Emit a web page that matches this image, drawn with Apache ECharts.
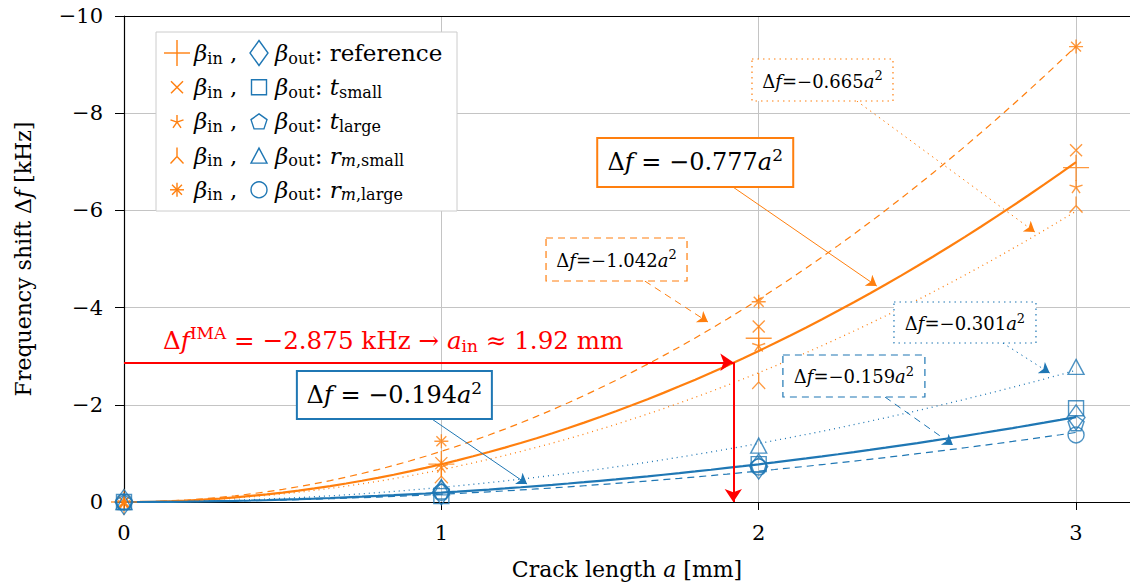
<!DOCTYPE html>
<html><head><meta charset="utf-8">
<script src="https://cdn.jsdelivr.net/npm/echarts@6/dist/echarts.min.js"></script>
<style>html,body{margin:0;padding:0;background:#fff}#c{width:1130px;height:587px}</style>
</head><body><div id="c"></div>
<script>
// ---------------- data ----------------
const crackLengths = [0, 1, 2, 3];
const xTicks = [0, 1, 2, 3];
const yTicks = [-10, -8, -6, -4, -2, 0];
// beta_in (orange)
const inReference = [0, -0.78, -3.37, -6.88];
const inTSmall    = [0, -0.80, -3.61, -7.24];
const inTLarge    = [0, -0.74, -3.23, -6.49];
const inRmSmall   = [0, -0.55, -2.49, -6.12];
const inRmLarge   = [0, -1.25, -4.12, -9.37];
// beta_out (blue)
const outReference = [0, -0.20, -0.73, -1.74];
const outTSmall    = [0, -0.12, -0.78, -1.93];
const outTLarge    = [0, -0.22, -0.76, -1.62];
const outRmSmall   = [0, -0.30, -1.16, -2.78];
const outRmLarge   = [0, -0.20, -0.72, -1.38];
// quadratic fit coefficients  (Δf = c·a²)
const fitInCoef  = [-0.777, -0.665, -1.042];   // reference, r_m small, r_m large
const fitOutCoef = [-0.194, -0.301, -0.159];   // reference, r_m small, r_m large
const fitLabelText = ['−0.777', '−0.665', '−1.042', '−0.194', '−0.301', '−0.159'];
// IMA read-off
const imaShift = -2.875;
const imaCrack = 1.92;

// ---------------- styles ----------------
const ORANGE = '#ff7f0e', BLUE = '#1f77b4', RED = '#ff0000';
const FONT = 'DejaVu Serif';
const SYM = {
  plus: 'path://M0,5L10,5M5,0L5,10',
  cross: 'path://M0,0L10,10M0,10L10,0',
  star: 'path://M5,5L5,0M5,5L9.755,3.455M5,5L7.939,9.045M5,5L2.061,9.045M5,5L0.245,3.455',
  tri: 'path://M5,5L5,0M5,5L1.4,8.9M5,5L8.6,8.9',
  asterisk: 'path://M5,0L5,10M0,5L10,5M1.46,1.46L8.54,8.54M1.46,8.54L8.54,1.46',
  diamond: 'path://M5,0L10,5L5,10L0,5Z',
  square: 'path://M0,0L10,0L10,10L0,10Z',
  pentagon: 'path://M5,0L9.755,3.455L7.939,9.045L2.061,9.045L0.245,3.455Z',
  triangle: 'path://M5,0L10,9L0,9Z',
  circle: 'path://M0,5A5,5,0,1,1,10,5A5,5,0,1,1,0,5Z'
};
const markerSets = [
  {data: inReference, color: ORANGE, symbol: 'plus', size: [26, 26]},
  {data: inTSmall, color: ORANGE, symbol: 'cross', size: [12, 12]},
  {data: inTLarge, color: ORANGE, symbol: 'star', size: [13, 13]},
  {data: inRmSmall, color: ORANGE, symbol: 'tri', size: [13, 16]},
  {data: inRmLarge, color: ORANGE, symbol: 'asterisk', size: [14, 14]},
  {data: outReference, color: BLUE, symbol: 'diamond', size: [18, 25]},
  {data: outTSmall, color: BLUE, symbol: 'square', size: [15, 15]},
  {data: outTLarge, color: BLUE, symbol: 'pentagon', size: [16, 15]},
  {data: outRmSmall, color: BLUE, symbol: 'triangle', size: [16, 15]},
  {data: outRmLarge, color: BLUE, symbol: 'circle', size: [16, 16]}
];
const fitStyles = [
  {coef: fitInCoef[0], color: ORANGE, type: 'solid', width: 2.2},
  {coef: fitInCoef[1], color: ORANGE, type: [1, 4], width: 1.3},
  {coef: fitInCoef[2], color: ORANGE, type: [7, 5], width: 1.2},
  {coef: fitOutCoef[0], color: BLUE, type: 'solid', width: 2.2},
  {coef: fitOutCoef[1], color: BLUE, type: [1, 4], width: 1.3},
  {coef: fitOutCoef[2], color: BLUE, type: [7, 5], width: 1.2}
];
// annotation boxes: centre (data coords), box size px, arrow from/to (data coords)
const annos = [
  {t: 0, c: [1.800, -6.986], w: 196, h: 49, big: true, from: [1.919, -6.481], to: [2.372, -4.444]},
  {t: 1, c: [2.201, -8.683], w: 141, h: 42, big: false, from: [2.309, -8.251], to: [2.870, -5.556]},
  {t: 2, c: [1.552, -4.990], w: 141, h: 43, big: false, from: [1.641, -4.547], to: [1.840, -3.704]},
  {t: 3, c: [0.852, -2.202], w: 195, h: 48, big: true, from: [0.970, -1.708], to: [1.270, -0.370]},
  {t: 4, c: [2.650, -3.693], w: 142, h: 41, big: false, from: [2.769, -3.272], to: [2.917, -2.654]},
  {t: 5, c: [2.300, -2.593], w: 142, h: 42, big: false, from: [2.398, -2.160], to: [2.612, -1.173]}
];
const annoStyle = [
  {color: ORANGE, dash: null}, {color: ORANGE, dash: [1.5, 4]}, {color: ORANGE, dash: [7, 5]},
  {color: BLUE, dash: null}, {color: BLUE, dash: [1.5, 4]}, {color: BLUE, dash: [7, 5]}
];

function curve(c) {
  const pts = [];
  for (let k = 0; k <= 60; k++) { const a = 3 * k / 60; pts.push([a, c * a * a]); }
  return pts;
}
const minus = v => (v === 0 ? '0' : (v < 0 ? '−' + Math.abs(v) : String(v)));

const chart = echarts.init(document.getElementById('c'), null, {renderer: 'svg'});
const series = [];
fitStyles.forEach(f => series.push({
  type: 'line', data: curve(f.coef), showSymbol: false, symbol: 'none', smooth: false,
  lineStyle: {color: f.color, width: f.width, type: f.type}, z: 3, silent: true
}));
annos.forEach(a => {
  const st = annoStyle[a.t];
  series.push({
    type: 'lines', coordinateSystem: 'cartesian2d', z: 4, silent: true,
    symbol: ['none', 'arrow'], symbolSize: 10,
    lineStyle: {color: st.color, width: 1, type: st.dash ? st.dash : 'solid', opacity: 1, curveness: 0},
    data: [{coords: [a.from, a.to]}]
  });
});
series.push({
  type: 'lines', coordinateSystem: 'cartesian2d', z: 6, silent: true,
  symbol: ['none', 'arrow'], symbolSize: 13,
  lineStyle: {color: RED, width: 2, opacity: 1, curveness: 0},
  data: [{coords: [[0, imaShift], [imaCrack, imaShift]]}, {coords: [[imaCrack, imaShift], [imaCrack, 0]]}]
});
markerSets.forEach(m => series.push({
  type: 'scatter', symbol: SYM[m.symbol], symbolSize: m.size, z: 5, silent: true,
  itemStyle: {color: 'rgba(0,0,0,0)', borderColor: m.color, borderWidth: 1.4},
  data: crackLengths.map((a, i) => [a, m.data[i]])
}));

const axisText = {fontFamily: FONT, fontSize: 21, color: '#000'};
chart.setOption({
  animation: false,
  grid: {left: 124, right: 0, top: 16, bottom: 85, containLabel: false, outerBoundsMode: 'none'},
  xAxis: [{
    type: 'value', min: 0, max: 3.17, interval: 1, position: 'bottom',
    axisLine: {show: true, onZero: false, lineStyle: {color: '#000', width: 1.2}},
    axisTick: {show: true, length: 8, customValues: xTicks, lineStyle: {color: '#000'}},
    axisLabel: {show: true, customValues: xTicks, margin: 20, ...axisText, formatter: v => String(v)},
    splitLine: {show: true, lineStyle: {color: '#c4c4c4', width: 1}},
    name: 'Crack length {i|a} [mm]', nameLocation: 'middle', nameGap: 56,
    nameTextStyle: {fontFamily: FONT, fontSize: 22, color: '#000',
      rich: {i: {fontFamily: FONT, fontSize: 22, fontStyle: 'italic', color: '#000'}}}
  }, {
    type: 'value', min: 0, max: 3.17, position: 'top',
    axisLine: {show: true, onZero: false, lineStyle: {color: '#000', width: 1.2}},
    axisTick: {show: false}, axisLabel: {show: false}, splitLine: {show: false}
  }],
  yAxis: [{
    type: 'value', min: yTicks[0], max: yTicks[yTicks.length - 1], interval: 2, inverse: true,
    axisLine: {show: true, onZero: false, lineStyle: {color: '#000', width: 1.2}},
    axisTick: {show: true, length: 9, lineStyle: {color: '#000'}},
    axisLabel: {show: true, margin: 21, ...axisText, formatter: minus},
    splitLine: {show: true, lineStyle: {color: '#c4c4c4', width: 1}},
    name: 'Frequency shift Δ{i|f} [kHz]', nameLocation: 'middle', nameGap: 90, nameRotate: 90,
    nameTextStyle: {fontFamily: FONT, fontSize: 22, color: '#000',
      rich: {i: {fontFamily: FONT, fontSize: 22, fontStyle: 'italic', color: '#000'}}}
  }],
  series: series
});

// ---------------- graphics (legend, annotation boxes, IMA text) ----------------
function richSet(size, color) {
  const s = Math.round(size * 0.7);
  return {
    n: {fontFamily: FONT, fontSize: size, fill: color},
    i: {fontFamily: FONT, fontSize: size, fontStyle: 'italic', fill: color},
    sub: {fontFamily: FONT, fontSize: s, fill: color, padding: [Math.round(size * 0.45), 0, 0, 0]},
    isub: {fontFamily: FONT, fontSize: s, fontStyle: 'italic', fill: color, padding: [Math.round(size * 0.45), 0, 0, 0]},
    sup: {fontFamily: FONT, fontSize: s, fill: color, padding: [0, 0, Math.round(size * 0.6), 0]}
  };
}
// legend marker drawn with graphic primitives from the same symbol definitions
function legendMarker(name, cx, cy, w, h, color) {
  const style = {fill: 'none', stroke: color, lineWidth: 1.4};
  if (name === 'circle') return [{type: 'circle', z: 101, silent: true, shape: {cx: cx, cy: cy, r: w / 2}, style: style}];
  const str = SYM[name].slice(7);
  const parts = str.match(/[MLZ][^MLZ]*/g);
  const subs = []; let cur = null;
  parts.forEach(p => {
    const cmd = p[0];
    if (cmd === 'M') { cur = {pts: [], closed: false}; subs.push(cur); }
    if (cmd === 'Z') { cur.closed = true; return; }
    const n = p.slice(1).split(',').map(Number);
    cur.pts.push([n[0], n[1]]);
  });
  let x0 = Infinity, x1 = -Infinity, y0 = Infinity, y1 = -Infinity;
  subs.forEach(s => s.pts.forEach(q => { x0 = Math.min(x0, q[0]); x1 = Math.max(x1, q[0]); y0 = Math.min(y0, q[1]); y1 = Math.max(y1, q[1]); }));
  return subs.map(s => ({
    type: s.closed ? 'polygon' : 'polyline', z: 101, silent: true,
    shape: {points: s.pts.map(q => [cx - w / 2 + (q[0] - x0) / (x1 - x0) * w, cy - h / 2 + (q[1] - y0) / (y1 - y0) * h])},
    style: style
  }));
}
const px = p => chart.convertToPixel({xAxisIndex: 0, yAxisIndex: 0}, p);
const graphics = [];
annos.forEach(a => {
  const st = annoStyle[a.t];
  const c = px(a.c);
  const fs = a.big ? 24 : 18;
  const eq = a.big ? ' = ' : '=';
  graphics.push({
    type: 'rect', z: 100, silent: true,
    shape: {x: c[0] - a.w / 2, y: c[1] - a.h / 2, width: a.w, height: a.h},
    style: {fill: '#fff', stroke: st.color, lineWidth: a.big ? 2 : 1.2, lineDash: st.dash || null}
  });
  graphics.push({
    type: 'text', z: 101, silent: true, x: c[0], y: c[1] + (a.big ? 0 : 1),
    style: {
      text: '{n|Δ}{i|f}{n|' + eq + fitLabelText[a.t] + '}{i|a}{sup|2}',
      align: 'center', verticalAlign: 'middle', fontFamily: FONT, fontSize: fs, fill: '#000',
      rich: richSet(fs, '#000')
    }
  });
});
// IMA text
const ip = px([0.123, -3.333]);
graphics.push({
  type: 'text', z: 101, silent: true, x: ip[0], y: ip[1],
  style: {
    text: '{n|Δ}{i|f}{sup|IMA}{n| = −2.875 kHz → }{i|a}{sub|in}{n| ≈ 1.92 mm}',
    align: 'left', verticalAlign: 'middle', fontFamily: FONT, fontSize: 24.6, fill: RED,
    rich: richSet(24.6, RED)
  }
});
// legend
const legendRows = [
  {o: 'plus', os: [26, 26], b: 'diamond', bs: [18, 25], txt: '{n|: reference}'},
  {o: 'cross', os: [12, 12], b: 'square', bs: [15, 15], txt: '{n|: }{i|t}{sub|small}'},
  {o: 'star', os: [13, 13], b: 'pentagon', bs: [16, 15], txt: '{n|: }{i|t}{sub|large}'},
  {o: 'tri', os: [13, 16], b: 'triangle', bs: [16, 15], txt: '{n|: }{i|r}{isub|m}{sub|,small}'},
  {o: 'asterisk', os: [14, 14], b: 'circle', bs: [16, 16], txt: '{n|: }{i|r}{isub|m}{sub|,large}'}
];
const lg = {x: 156, y: 32, w: 301, h: 179};
graphics.push({type: 'rect', z: 100, silent: true, shape: {x: lg.x, y: lg.y, width: lg.w, height: lg.h},
  style: {fill: '#fff', stroke: '#cccccc', lineWidth: 1}});
legendRows.forEach((r, k) => {
  const cy = 53 + k * 34.2;
  legendMarker(r.o, 177, cy, r.os[0], r.os[1], ORANGE).forEach(g => graphics.push(g));
  legendMarker(r.b, 259, cy, r.bs[0], r.bs[1], BLUE).forEach(g => graphics.push(g));
  graphics.push({type: 'text', z: 101, silent: true, x: 194, y: cy,
    style: {text: '{i|β}{sub|in}{n| ,}', align: 'left', verticalAlign: 'middle',
      fontFamily: FONT, fontSize: 23, fill: '#000', rich: richSet(23, '#000')}});
  graphics.push({type: 'text', z: 101, silent: true, x: 275, y: cy,
    style: {text: '{i|β}{sub|out}' + r.txt, align: 'left', verticalAlign: 'middle',
      fontFamily: FONT, fontSize: 23, fill: '#000', rich: richSet(23, '#000')}});
});
chart.setOption({graphic: graphics});
</script></body></html>
